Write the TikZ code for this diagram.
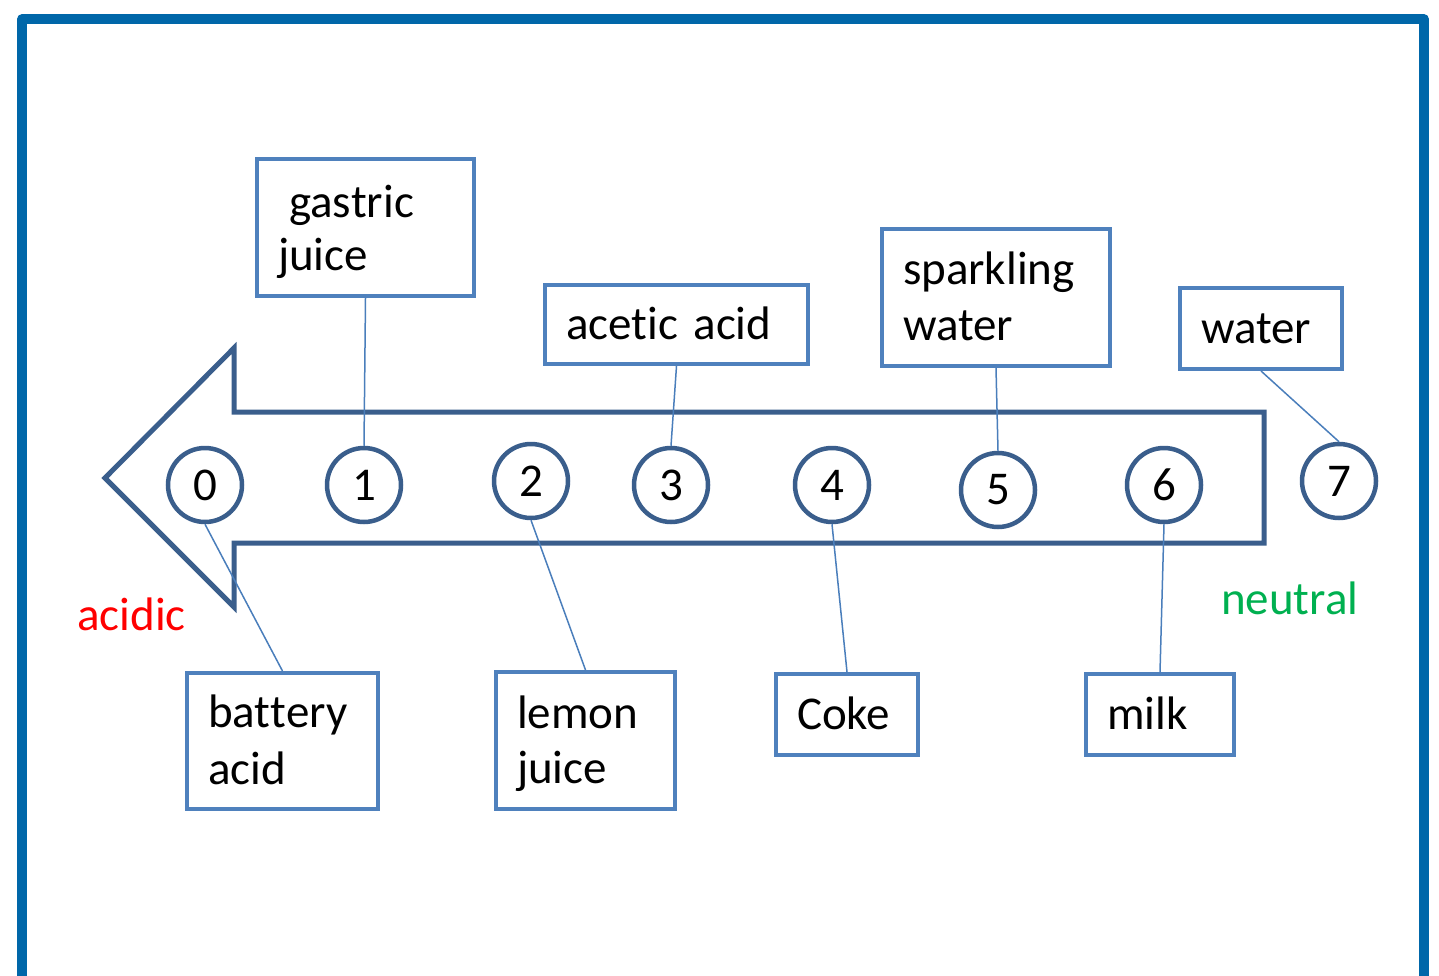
\documentclass[tikz,border=0pt]{standalone}
\usepackage{fontspec}
\setmainfont{Carlito}[Ligatures={NoCommon}]
\newcommand{\nolig}{\kern0pt{}}
\definecolor{framec}{HTML}{0067A9}
\definecolor{arrowc}{HTML}{3A5E8C}
\definecolor{boxc}{HTML}{4F81BD}
\definecolor{linec}{HTML}{4A7EBB}
\definecolor{acidred}{HTML}{FF0000}
\definecolor{neutgreen}{HTML}{00B050}
\tikzset{
  lbl/.style={font=\fontsize{47}{57}\selectfont},
  box/.style={draw=boxc, line width=4pt, fill=white, inner xsep=21pt, inner ysep=0pt, align=left, font=\fontsize{47}{57}\selectfont},
  oneline/.style={text height=30pt, text depth=0pt},
  twoline/.style 2 args={text height=0pt, text depth=#1pt, font=\fontsize{47}{#2}\selectfont},
  phc/.style={circle, draw=arrowc, line width=4.5pt, fill=white, minimum size=74pt, inner sep=0pt, font=\fontsize{47}{57}\selectfont},
  conn/.style={draw=linec, line width=1.5pt},
}
\begin{document}
\begin{tikzpicture}[x=1pt,y=-1pt]
\useasboundingbox (0,0) rectangle (1439,976);
% frame
\draw[framec, line width=9.5pt, line join=round] (22,990) -- (22,19) -- (1424,19) -- (1424,990);
% arrow
\draw[arrowc, line width=5pt, line join=miter, fill=white] (105,478) -- (234,348) -- (234,412) -- (1264,412) -- (1264,543) -- (234,543) -- (234,607) -- cycle;
% circles
\node[phc] (c0) at (205,485) {0};
\node[phc] (c1) at (364,485) {1};
\node[phc] (c2) at (531,481) {2};
\node[phc] (c3) at (671,485) {3};
\node[phc] (c4) at (832,485) {4};
\node[phc] (c5) at (998,490) {5};
\node[phc] (c6) at (1164,485) {6};
\node[phc] (c7) at (1339,481) {7};
% boxes
\node[box, twoline={19}{53}, text width=175pt, minimum height=137pt] (gastric) at (365.5,227.5) {\hspace*{11pt}gas\nolig t\nolig ric\\juice};
\node[box, oneline, text width=221pt, minimum height=79pt] (acetic) at (676.5,324.5) {acet\nolig ic acid};
\node[box, twoline={27}{56}, text width=186pt, minimum height=137pt] (sparkling) at (996,297.5) {sparkling\\water};
\node[box, oneline, text width=120pt, minimum height=81pt] (water) at (1261,328.5) {water};
\node[box, twoline={26.6}{57}, text width=149pt, minimum height=136pt] (battery) at (282.5,741) {bat\nolig t\nolig ery\\acid};
\node[box, twoline={24.4}{55}, text width=137pt, minimum height=137pt] (lemon) at (585.5,740.5) {lemon\\juice};
\node[box, oneline, text width=100pt, minimum height=81pt] (coke) at (847,714.5) {Coke};
\node[box, oneline, text width=106pt, minimum height=81pt] (milk) at (1160,714.5) {milk};
% connectors
\draw[conn] (gastric.south) -- (c1.north);
\draw[conn] (acetic.south) -- (c3.north);
\draw[conn] (sparkling.south) -- (c5.north);
\draw[conn] (water.south) -- (c7.north);
\draw[conn] (c0.south) -- (battery.north);
\draw[conn] (c2.south) -- (lemon.north);
\draw[conn] (c4.south) -- (coke.north);
\draw[conn] (c6.south) -- (milk.north);
% labels
\node[lbl, text=acidred, anchor=base west, inner sep=0pt] (acidic) at (77,630) {acidic};
\node[lbl, text=neutgreen, anchor=base west, inner sep=0pt] (neutral) at (1221,614) {neutral};
\end{tikzpicture}
\end{document}
